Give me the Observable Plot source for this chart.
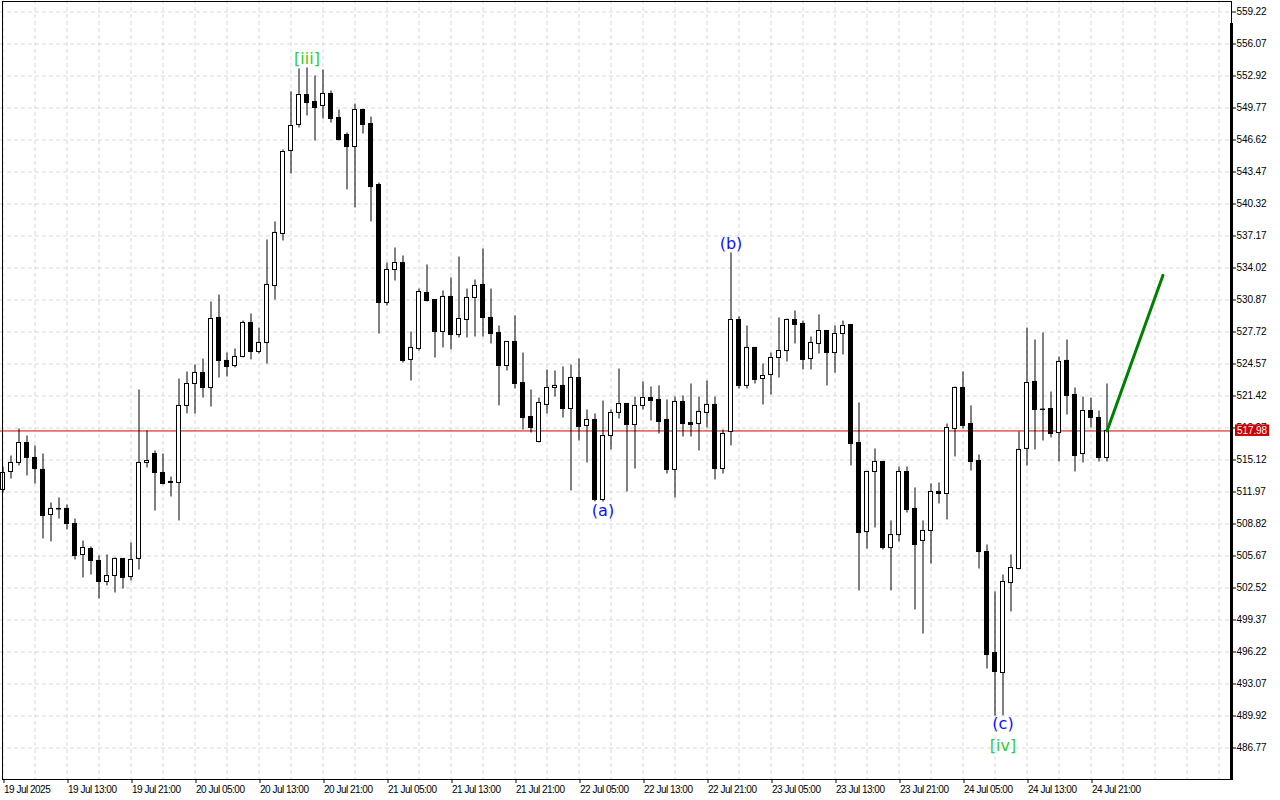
<!DOCTYPE html>
<html>
<head>
<meta charset="utf-8">
<script src="https://cdn.jsdelivr.net/npm/d3@7"></script>
<script src="https://cdn.jsdelivr.net/npm/@observablehq/plot@0.6"></script>
<style>
  html, body { margin: 0; padding: 0; background: #ffffff; }
  svg { display: block; }
</style>
</head>
<body>
<div id="chart"></div>
<script>
// ---- Data (hourly candles, first bar 19 Jul 2025 05:00) ----
const xLabels = ["19 Jul 2025", "19 Jul 13:00", "19 Jul 21:00", "20 Jul 05:00", "20 Jul 13:00", "20 Jul 21:00",
  "21 Jul 05:00", "21 Jul 13:00", "21 Jul 21:00", "22 Jul 05:00", "22 Jul 13:00", "22 Jul 21:00",
  "23 Jul 05:00", "23 Jul 13:00", "23 Jul 21:00", "24 Jul 05:00", "24 Jul 13:00", "24 Jul 21:00"];

const yTicks = [559.22, 556.07, 552.92, 549.77, 546.62, 543.47, 540.32, 537.17, 534.02, 530.87, 527.72, 524.57,
  521.42, 518.27, 515.12, 511.97, 508.82, 505.67, 502.52, 499.37, 496.22, 493.07, 489.92, 486.77];

const open = [
  512.17, 513.94, 514.83, 516.79, 515.32, 514.14, 509.71, 510.25, 510.30, 508.82,
  505.77, 506.36, 505.18, 503.11, 503.70, 505.38, 503.60, 505.38, 514.83, 515.71,
  513.84, 512.96, 512.86, 520.44, 522.60, 523.68, 522.21, 529.10, 524.87, 524.37,
  525.26, 528.61, 525.75, 526.64, 532.25, 537.37, 545.54, 548.10, 551.05, 550.36,
  549.97, 551.15, 548.78, 547.11, 545.93, 549.57, 548.19, 542.19, 530.58, 533.82,
  534.51, 524.97, 526.05, 531.56, 530.87, 527.72, 531.17, 527.42, 528.90, 531.07,
  532.35, 529.10, 527.62, 524.37, 526.74, 522.70, 519.35, 516.89, 520.54, 522.21,
  522.41, 520.14, 523.19, 518.47, 519.06, 511.18, 517.48, 519.75, 520.63, 518.56,
  520.44, 521.22, 521.03, 519.06, 514.14, 520.83, 518.76, 518.66, 519.75, 520.54,
  514.23, 517.88, 528.90, 522.41, 526.15, 523.09, 523.49, 525.16, 525.85, 528.90,
  528.51, 525.06, 526.54, 527.82, 525.65, 527.52, 528.41, 516.79, 508.03, 513.94,
  514.93, 506.46, 507.73, 513.94, 510.30, 507.15, 508.13, 511.97, 511.77, 518.17,
  522.21, 518.66, 515.02, 506.06, 496.12, 494.15, 503.01, 504.39, 516.21, 522.80,
  520.08, 520.14, 517.78, 524.87, 521.52, 515.71, 519.94, 519.25, 515.32];

const high = [
  514.43, 515.51, 518.17, 517.48, 516.50, 515.71, 510.89, 511.38, 510.69, 509.31,
  507.15, 506.56, 505.67, 505.77, 505.47, 505.40, 506.95, 522.01, 517.97, 516.01,
  515.71, 513.45, 523.09, 523.78, 524.47, 525.06, 530.67, 531.36, 525.65, 526.05,
  528.80, 529.49, 528.11, 536.78, 538.55, 545.64, 551.35, 553.61, 553.71, 552.92,
  553.51, 551.44, 549.57, 547.31, 550.16, 549.67, 548.88, 542.39, 534.51, 535.99,
  535.20, 527.72, 531.95, 534.32, 530.90, 531.76, 533.04, 535.10, 531.95, 532.84,
  535.89, 531.95, 528.31, 526.78, 529.30, 525.65, 522.01, 521.22, 523.98, 523.88,
  524.28, 524.47, 525.06, 520.04, 519.65, 520.93, 520.04, 524.08, 520.70, 521.32,
  522.80, 522.31, 522.41, 521.03, 521.32, 521.42, 522.60, 521.32, 522.90, 521.32,
  518.07, 535.50, 529.20, 528.31, 526.20, 524.57, 525.65, 529.10, 529.00, 529.79,
  528.80, 527.23, 529.40, 527.85, 528.31, 528.80, 528.45, 520.73, 514.00, 516.21,
  514.95, 509.12, 514.43, 514.43, 512.37, 509.12, 512.76, 512.86, 518.66, 522.31,
  523.78, 520.44, 515.61, 506.75, 502.13, 503.80, 505.77, 517.88, 528.11, 526.93,
  527.62, 521.81, 525.26, 526.93, 522.21, 521.32, 521.22, 519.94, 522.60];

const low = [
  511.87, 513.25, 514.53, 513.55, 512.76, 507.34, 507.05, 509.31, 508.23, 505.28,
  503.51, 503.80, 501.44, 502.72, 502.03, 502.42, 503.21, 504.29, 514.33, 510.10,
  512.66, 511.48, 509.12, 519.65, 519.65, 521.22, 520.34, 523.19, 523.29, 524.18,
  525.16, 524.97, 525.55, 524.57, 530.87, 536.68, 543.27, 547.80, 548.98, 546.52,
  548.69, 548.29, 546.52, 541.70, 539.93, 547.21, 538.55, 527.52, 530.28, 532.74,
  524.67, 522.90, 525.85, 530.67, 525.16, 526.15, 525.95, 527.13, 527.13, 527.23,
  527.23, 526.54, 520.44, 523.88, 522.11, 518.07, 517.78, 516.80, 519.65, 521.32,
  519.25, 512.07, 516.99, 514.83, 511.00, 510.98, 516.11, 519.16, 511.97, 514.23,
  520.04, 518.96, 517.68, 513.74, 511.38, 517.38, 517.38, 516.01, 518.27, 513.15,
  513.74, 516.50, 522.11, 522.11, 522.60, 520.54, 521.52, 523.19, 524.77, 526.54,
  523.98, 523.98, 525.55, 522.41, 523.68, 525.46, 514.53, 502.23, 506.36, 508.43,
  506.26, 502.23, 507.05, 509.90, 500.36, 497.99, 504.88, 510.79, 509.22, 515.42,
  518.17, 514.04, 504.39, 494.55, 489.92, 489.95, 500.16, 504.29, 514.53, 516.11,
  516.99, 517.29, 514.93, 519.55, 513.94, 514.83, 518.27, 514.93, 514.93];

const close = [
  513.84, 514.83, 516.79, 515.32, 514.23, 509.61, 510.30, 510.30, 508.82, 505.67,
  506.46, 505.18, 503.11, 503.70, 505.38, 503.51, 505.28, 514.83, 515.02, 513.84,
  512.76, 512.86, 520.44, 522.60, 523.68, 522.21, 529.00, 524.87, 524.28, 525.26,
  528.61, 525.75, 526.64, 532.35, 537.47, 545.44, 548.00, 551.05, 550.26, 549.77,
  551.15, 548.69, 546.62, 545.93, 549.57, 548.10, 541.99, 530.58, 533.82, 534.51,
  524.87, 526.15, 531.66, 530.77, 527.72, 531.17, 527.42, 529.00, 531.07, 532.25,
  529.10, 527.52, 524.37, 526.74, 522.60, 519.25, 518.27, 520.73, 522.21, 522.41,
  520.14, 523.19, 518.37, 519.06, 511.18, 517.48, 519.75, 520.63, 518.56, 520.44,
  521.22, 520.93, 518.86, 514.14, 520.83, 518.66, 518.56, 519.85, 520.54, 514.23,
  517.68, 528.90, 522.41, 526.15, 523.00, 523.39, 525.16, 525.85, 528.90, 528.41,
  524.97, 526.64, 527.82, 525.65, 527.52, 528.31, 516.70, 507.93, 513.94, 514.93,
  506.46, 507.73, 513.94, 510.20, 506.75, 508.13, 511.97, 511.77, 518.27, 522.21,
  518.47, 514.93, 506.06, 495.92, 494.25, 503.11, 504.49, 516.11, 522.70, 520.04,
  520.04, 517.68, 524.77, 521.42, 515.51, 519.94, 519.25, 515.32, 517.98];

// Elliott wave labels (bar index, price anchor)
const waveText  = ["[iii]", "(b)", "(a)", "(c)", "[iv]"];
const waveIndex = [38, 91, 75, 125, 125];
const wavePrice = [554.56, 536.43, 510.15, 489.18, 487.02];

// forecast segment
const forecastIndex = [138, 145];
const forecastPrice = [517.98, 533.30];

const bidPrice = 517.98;

// ---- Build tables ----
const candles = open.map((o, i) => ({i, open: o, high: high[i], low: low[i], close: close[i]}));
const waves = waveText.map((t, k) => ({text: t, i: waveIndex[k], price: wavePrice[k]}));
const forecast = forecastIndex.map((x, k) => ({i: x, price: forecastPrice[k]}));
const xTickIdx = xLabels.map((_, k) => k * 8);
const gridIdx = d3.range(0, 153, 4);

const GRID = "#d9d9d9";
const fig = Plot.plot({
  width: 1280,
  height: 800,
  marginTop: 0,
  marginLeft: 0,
  marginRight: 50,
  marginBottom: 21,
  style: {background: "#ffffff", fontFamily: "'Liberation Sans', Arial, sans-serif", fontSize: "10px", color: "#000", overflow: "visible"},
  x: {type: "linear", domain: [-0.3125, 153.4375], label: null},
  y: {type: "linear", domain: [483.6684, 560.3520], label: null},
  marks: [
    Plot.ruleX(gridIdx, {stroke: GRID, strokeDasharray: "4,3"}),
    Plot.ruleY(yTicks, {stroke: GRID, strokeDasharray: "4,3"}),
    Plot.ruleY([bidPrice], {stroke: "#d40000", strokeWidth: 1}),
    Plot.ruleX(candles, {x: "i", y1: "low", y2: "high", stroke: "#000"}),
    Plot.rect(candles, {
      x1: d => d.i - 0.25, x2: d => d.i + 0.25,
      y1: "open", y2: "close",
      fill: d => d.close >= d.open ? "#ffffff" : "#000000",
      stroke: "#000", strokeWidth: 1
    }),
    Plot.line(forecast, {x: "i", y: "price", stroke: "#008000", strokeWidth: 3}),
    Plot.text(waves, {
      x: "i", y: "price", text: "text",
      fill: d => d.text.startsWith("[") ? "#32cd32" : "#1010ff",
      fontSize: 16, fontFamily: "'DejaVu Sans', sans-serif"
    }),
    Plot.axisX({ticks: xTickIdx, tickFormat: d => xLabels[Math.round(d / 8)], tickSize: 4, tickPadding: 2,
      textAnchor: "start", dx: 1, label: null}),
    Plot.axisY({anchor: "right", ticks: yTicks, tickFormat: d => d.toFixed(2), tickSize: 5, tickPadding: 1,
      textAnchor: "start", label: null})
  ]
});

document.getElementById("chart").appendChild(fig);

const svg = d3.select(fig);
svg.selectAll('g[aria-label="x-axis tick label"] text').style("letter-spacing", "-0.5px");
svg.selectAll('g[aria-label="y-axis tick label"] text').style("letter-spacing", "-0.1px");

// chart frame (MetaTrader style)
const frame = svg.append("g").attr("stroke", "#000").attr("fill", "none");
frame.append("line").attr("x1", 2).attr("x2", 1232).attr("y1", 1.5).attr("y2", 1.5);
frame.append("line").attr("x1", 2.5).attr("x2", 2.5).attr("y1", 1).attr("y2", 780);
frame.append("line").attr("x1", 2).attr("x2", 1233).attr("y1", 779.5).attr("y2", 779.5);
frame.append("line").attr("x1", 1231.5).attr("x2", 1231.5).attr("y1", 1).attr("y2", 23);
svg.append("rect").attr("x", 1230).attr("y", 23).attr("width", 3).attr("height", 757).attr("fill", "#000");

// current price tag
const yScale = fig.scale("y");
const yb = yScale.apply(bidPrice);
svg.append("rect").attr("x", 1235).attr("y", yb - 6).attr("width", 34).attr("height", 11.5).attr("fill", "#cc0000");
svg.append("text").attr("x", 1237).attr("y", yb).attr("dy", "0.34em")
  .attr("text-anchor", "start")
  .attr("fill", "#ffffff").attr("font-size", 10).attr("font-family", "'Liberation Sans', Arial, sans-serif")
  .style("letter-spacing", "-0.1px")
  .text(bidPrice.toFixed(2));
</script>
</body>
</html>
